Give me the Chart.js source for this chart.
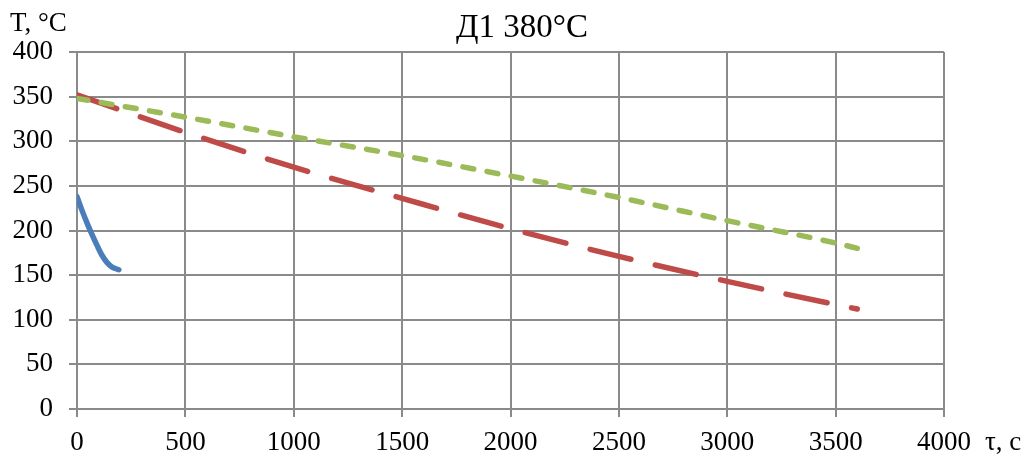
<!DOCTYPE html>
<html lang="ru">
<head>
<meta charset="utf-8">
<title>Д1 380˚C</title>
<script src="https://cdn.jsdelivr.net/npm/chart.js@4.4.1/dist/chart.umd.min.js"></script>
<style>
  html, body { margin: 0; padding: 0; background: #fff; }
  #wrap { width: 1035px; height: 459px; position: relative; }
</style>
</head>
<body>
<div id="wrap"><canvas id="grafico"></canvas></div>
<script>
// Время, с и температура, °C для трёх кривых
const tiempoAzul = [0, 24, 47, 70, 93, 116, 139, 162, 193];
const tempAzul = [238, 222, 208, 195, 183, 172, 164, 159, 156];

const tiempoRojo = [0, 500, 1000, 1500, 2000, 2500, 3000, 3500, 3600];
const tempRojo = [352, 310, 271, 236, 202, 171, 143, 117, 112];

const tiempoVerde = [0, 500, 1000, 1500, 2000, 2500, 3000, 3500, 3600];
const tempVerde = [348, 327, 305, 284, 261, 237, 211, 186, 180];

const titulo = "Д1 380°C";
const tituloY = "T, °C";
const tituloX = "τ, c";

const FUENTE = '"Liberation Serif", "Times New Roman", serif';
const COLOR_REJILLA = "#8a8a8a";

function puntos(xs, ys) {
  return xs.map((x, i) => ({ x, y: ys[i] }));
}

// Заголовок и подписи осей рисуются вручную: подписи стоят вне стандартных мест
const rotulos = {
  id: "rotulos",
  afterDraw(chart) {
    const { ctx, chartArea } = chart;
    ctx.save();
    ctx.fillStyle = "#000";
    ctx.textBaseline = "alphabetic";

    ctx.font = "33px " + FUENTE;
    ctx.textAlign = "center";
    ctx.fillText(titulo, 522, chartArea.top - 15);

    ctx.font = "27px " + FUENTE;
    ctx.textAlign = "left";
    ctx.fillText(tituloY, 10, chartArea.top - 21);
    ctx.fillText(tituloX, chartArea.right + 41, chartArea.bottom + 41);
    ctx.restore();
  }
};

const canvas = document.getElementById("grafico");

new Chart(canvas, {
  type: "scatter",
  data: {
    datasets: [
      {
        label: "1",
        data: puntos(tiempoAzul, tempAzul),
        showLine: true,
        borderColor: "#4a7ebb",
        borderWidth: 5.5,
        borderCapStyle: "round",
        borderJoinStyle: "round",
        tension: 0.3,
        pointRadius: 0
      },
      {
        label: "3",
        data: puntos(tiempoVerde, tempVerde),
        showLine: true,
        borderColor: "#9bbb59",
        borderWidth: 5.5,
        borderCapStyle: "round",
        borderDash: [11, 13.5],
        cubicInterpolationMode: "monotone",
        pointRadius: 0
      },
      {
        label: "2",
        data: puntos(tiempoRojo, tempRojo),
        showLine: true,
        borderColor: "#be4b48",
        borderWidth: 5.5,
        borderCapStyle: "round",
        borderDash: [42, 25],
        cubicInterpolationMode: "monotone",
        pointRadius: 0
      }
    ]
  },
  options: {
    responsive: true,
    maintainAspectRatio: false,
    animation: false,
    layout: {
      padding: { left: 0, right: 91, top: 52, bottom: 0 }
    },
    plugins: {
      legend: { display: false },
      tooltip: { enabled: false },
      title: { display: false }
    },
    scales: {
      x: {
        type: "linear",
        min: 0,
        max: 4000,
        afterFit(scale) { scale.height = 50; },
        ticks: {
          stepSize: 500,
          color: "#000",
          padding: 10,
          maxRotation: 0,
          font: { family: FUENTE, size: 27 },
          callback: (v) => String(v)
        },
        grid: { color: COLOR_REJILLA, lineWidth: 2, tickLength: 8 },
        border: { color: COLOR_REJILLA, width: 2 }
      },
      y: {
        type: "linear",
        min: 0,
        max: 400,
        afterFit(scale) { scale.width = 77; },
        ticks: {
          stepSize: 50,
          color: "#000",
          padding: 16,
          font: { family: FUENTE, size: 27 },
          callback: (v) => String(v)
        },
        grid: { color: COLOR_REJILLA, lineWidth: 2, tickLength: 8 },
        border: { color: COLOR_REJILLA, width: 2 }
      }
    }
  },
  plugins: [rotulos]
});
</script>
</body>
</html>
